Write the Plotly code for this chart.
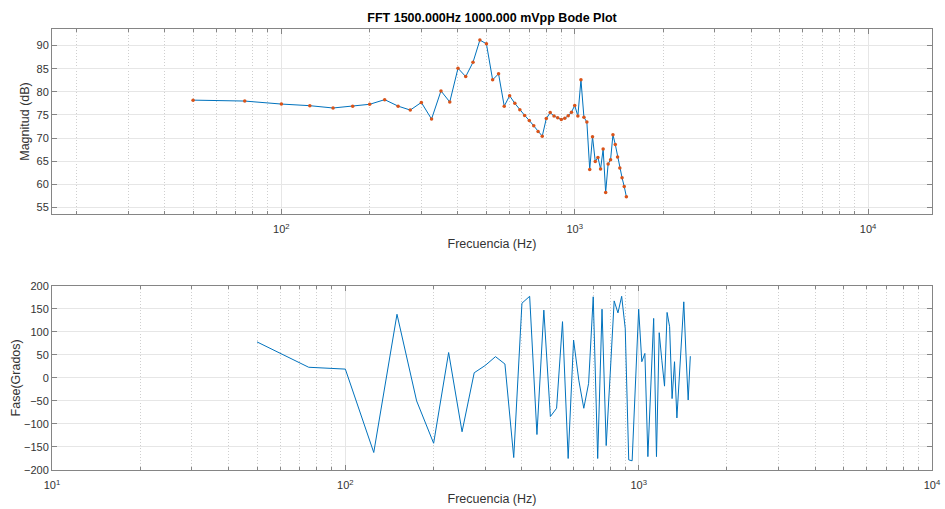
import plotly.graph_objects as go

# FFT bins (Hz)
freq_hz = [50, 75, 100, 125, 150, 175, 200, 225, 250, 275, 300, 325, 350, 375, 400,
           425, 450, 475, 500, 525, 550, 575, 600, 625, 650, 675, 700, 725, 750, 775,
           800, 825, 850, 875, 900, 925, 950, 975, 1000, 1025, 1050, 1075, 1100, 1125,
           1150, 1175, 1200, 1225, 1250, 1275, 1300, 1325, 1350, 1375, 1400, 1425,
           1450, 1475, 1500]

# Magnitude (dB)
magnitude_db = [78.2, 78.0, 77.35, 77.0, 76.5, 76.85, 77.3, 78.3, 76.9, 76.05, 77.7, 74.1,
                80.2, 77.8, 85.1, 83.3, 86.4, 91.2, 90.4, 82.6, 83.9, 76.9, 79.15, 77.5,
                76.1, 74.9, 73.8, 72.65, 71.4, 70.4, 74.2, 75.5, 74.75, 74.4, 74.0, 74.3,
                74.8, 75.6, 77.05, 74.75, 82.6, 74.5, 73.45, 63.2, 70.3, 64.9, 65.8, 63.3,
                67.6, 58.2, 64.4, 65.3, 70.7, 68.6, 65.9, 63.5, 61.4, 59.5, 57.3]

# Phase (degrees)
phase_deg = [78, 23, 19, -162, 138, -50, -142, 55, -117, 11, 27, 46, 30, -173, 162,
             177, -123, 147, -84, -66, 122, -175, 82, -5, -66, -12, 176, -175, 149, -147,
             10, 167, 141, 177, 107, -178, -180, -15, 149, 35, 53, -171, -30, 129,
             -171, 98, 37, -18, 142, 111, -45, 35, -87, 2, 90, 165,
             50, -48, 47]

title_text = "FFT 1500.000Hz 1000.000 mVpp Bode Plot"
decade_vals = [10, 100, 1000, 10000]
decade_text = ["10<sup>1</sup>", "10<sup>2</sup>", "10<sup>3</sup>", "10<sup>4</sup>"]
mag_ticks = [55, 60, 65, 70, 75, 80, 85, 90]
phase_ticks = [-200, -150, -100, -50, 0, 50, 100, 150, 200]

BLUE = "#0072BD"
ORANGE = "#D95319"
INK = "#333333"
FRAME = "#858585"
FONT = "Liberation Sans, Arial, Helvetica, sans-serif"

fig = go.Figure()

fig.add_trace(go.Scatter(x=freq_hz, y=magnitude_db, mode="lines",
                         line=dict(color=BLUE, width=1), xaxis="x", yaxis="y",
                         showlegend=False, hoverinfo="x+y"))
fig.add_trace(go.Scatter(x=freq_hz, y=magnitude_db, mode="markers",
                         marker=dict(color=ORANGE, size=3.5), xaxis="x", yaxis="y",
                         showlegend=False, hoverinfo="x+y"))
fig.add_trace(go.Scatter(x=freq_hz, y=phase_deg, mode="lines",
                         line=dict(color=BLUE, width=1), xaxis="x2", yaxis="y2",
                         showlegend=False, hoverinfo="x+y"))

minor_log = dict(dtick="D1", ticks="inside", ticklen=3, tickcolor=FRAME,
                 showgrid=True, gridcolor="#cfcfcf", griddash="1px,2px", gridwidth=1)

axis_title_font = dict(family=FONT, size=12.5, color=INK)

common_x = dict(type="log", showline=True, linecolor=FRAME, linewidth=1,
                mirror="ticks", ticks="inside", ticklen=5, tickcolor=FRAME,
                showgrid=True, gridcolor="#e6e6e6", gridwidth=1,
                tickvals=decade_vals, ticktext=decade_text,
                tickfont=dict(family=FONT, size=11, color=INK),
                ticklabelstandoff=5, automargin=False,
                zeroline=False, minor=minor_log)

common_y = dict(showline=True, linecolor=FRAME, linewidth=1, mirror="ticks",
                ticks="inside", ticklen=5, tickcolor=FRAME,
                showgrid=True, gridcolor="#e6e6e6", gridwidth=1, automargin=False,
                tickfont=dict(family=FONT, size=11, color=INK), zeroline=False)

fig.update_layout(
    width=945, height=509,
    margin=dict(l=52, r=13, t=29, b=39),
    paper_bgcolor="white", plot_bgcolor="white",
    font=dict(family=FONT, color=INK),
    title=dict(text="<b>" + title_text + "</b>", x=(52 + 932) / 2 / 945, xanchor="center",
               y=1 - 18 / 509, yanchor="middle",
               font=dict(family=FONT, size=12.5, color="#000000")),
    xaxis=dict(common_x, domain=[0, 1], anchor="y", range=[1.218, 4.218],
               title=dict(text="Frecuencia (Hz)", font=axis_title_font, standoff=5)),
    yaxis=dict(common_y, domain=[0.5805, 1.0], anchor="x", range=[53.55, 93.6],
               tickvals=mag_ticks,
               title=dict(text="Magnitud (dB)", font=axis_title_font, standoff=4)),
    xaxis2=dict(common_x, domain=[0, 1], anchor="y2", range=[1, 4],
                title=dict(text="Frecuencia (Hz)", font=axis_title_font, standoff=4)),
    yaxis2=dict(common_y, domain=[0.0, 0.4179], anchor="x2", range=[-200, 200],
                tickvals=phase_ticks,
                title=dict(text="Fase(Grados)", font=axis_title_font, standoff=0)),
)

fig.write_html("out.html")
